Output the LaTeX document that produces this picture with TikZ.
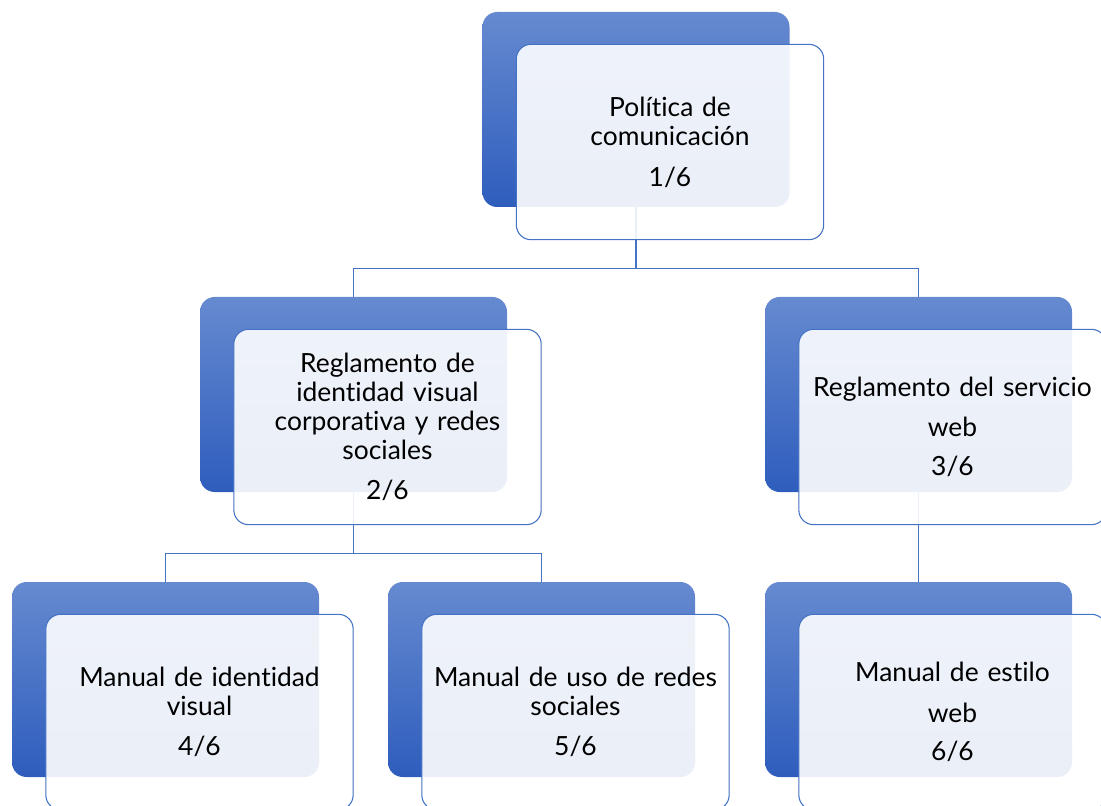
\documentclass[tikz,border=0pt]{standalone}
\usepackage{fontspec}
\setmainfont{Lato}[Ligatures=NoCommon]
\usetikzlibrary{calc,positioning,backgrounds}
\definecolor{accent}{RGB}{68,114,196}
\definecolor{blocktop}{RGB}{102,138,208}
\definecolor{blockbot}{RGB}{46,93,189}
\tikzset{
  backbox/.style={
    rectangle,
    rounded corners=11pt,
    top color=blocktop,
    bottom color=blockbot,
    minimum width=230.25pt,
    minimum height=146.25pt},
  frontbox/.style={
    rectangle,
    rounded corners=11pt,
    draw=accent, line width=0.8pt,
    fill=white, fill opacity=0.9, text opacity=1,
    minimum width=230.5pt,
    minimum height=146.5pt,
    text width=228pt,
    inner sep=0pt,
    align=center,
    font=\fontsize{19.8}{21.75}\selectfont},
  link/.style={draw=accent, line width=0.9pt},
}

\begin{document}
\begin{tikzpicture}[x=0.75pt, y=-0.75pt]
  \useasboundingbox (0,0) rectangle (1101,806);
  % back blocks
  \node[backbox] (pol) at (636,109.5) {};
  \node[backbox] (riv) at (353.5,394.5) {};
  \node[backbox] (rsw) at (918.5,394.5) {};
  \node[backbox] (miv) at (165.5,679.5) {};
  \node[backbox] (mur) at (541.5,679.5) {};
  \node[backbox] (mew) at (918.5,679.5) {};
  % front cards with the texts
  \node[frontbox] (polt) at ($(pol)+(34,32.5)$)
    {Política de\\ comunicación\\[9pt] 1/6};
  \node[frontbox] (rivt) at ($(riv)+(34,32.5)$)
    {Reglamento de\\ identidad visual\\ corporativa y redes\\ sociales\\[8pt] 2/6};
  \node[frontbox] (rswt) at ($(rsw)+(34,32.5)$)
    {Reglamento del servicio\\[8pt] web\\[8pt] 3/6};
  \node[frontbox] (mivt) at ($(miv)+(34,32.5)$)
    {Manual de identidad\\ visual\\[8pt] 4/6};
  \node[frontbox] (murt) at ($(mur)+(34,32.5)$)
    {Manual de uso de redes\\ sociales\\[8pt] 5/6};
  \node[frontbox] (mewt) at ($(mew)+(34,32.5)$)
    {Manual de estilo\\[9pt] web\\[7pt] 6/6};
  % connectors, under the blocks
  \begin{scope}[on background layer]
    \draw[link] (pol.south) -- +(0,61) -| (riv.north);
    \draw[link] (pol.south) -- +(0,61) -| (rsw.north);
    \draw[link] (riv.south) -- +(0,61) -| (miv.north);
    \draw[link] (riv.south) -- +(0,61) -| (mur.north);
    \draw[link] (rsw.south) -- (mew.north);
  \end{scope}
\end{tikzpicture}
\end{document}
